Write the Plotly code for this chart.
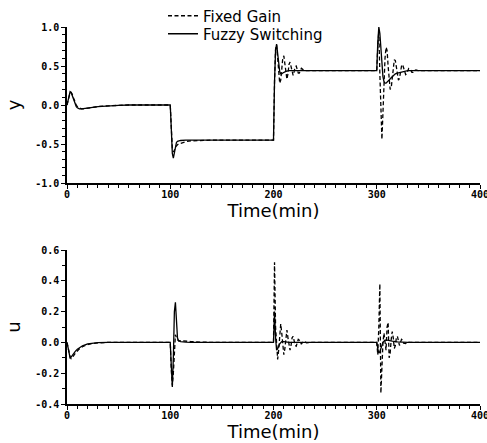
import plotly.graph_objects as go

# ---------------- data ----------------
# Output y, fuzzy switching
T_Y_FUZZY = [0,1,2,3,4,5,6,7,8,9,10,12,14,16,18,20,25,30,40,50,60,80,100,
             101,102,103,104,105,106,107,108,110,115,120,140,160,200,
             201,202,203,204,205,206,207,208,209,210,212,215,220,240,300,
             301,302,303,304,305,306,307,308,309,310,312,314,316,318,320,323,326,330,340,360,400]
Y_FUZZY = [0,0.06,0.14,0.17,0.16,0.12,0.07,0.03,0.0,-0.02,-0.035,-0.05,-0.05,-0.045,-0.04,-0.035,-0.03,-0.02,-0.01,-0.005,0,0,0,
           -0.3,-0.62,-0.68,-0.6,-0.52,-0.48,-0.465,-0.46,-0.455,-0.45,-0.45,-0.45,-0.45,-0.45,
           0.3,0.7,0.78,0.68,0.52,0.43,0.40,0.40,0.41,0.42,0.43,0.44,0.44,0.44,0.44,
           0.8,1.0,0.92,0.7,0.5,0.36,0.3,0.28,0.28,0.29,0.32,0.35,0.38,0.4,0.41,0.42,0.43,0.44,0.44,0.44,0.44]

# Output y, fixed gain
T_Y_FIXED = [0,1,2,3,4,5,6,7,8,9,10,12,14,16,18,20,25,30,40,50,60,80,100,
             101,102,103,104,105,106,107,108,110,112,115,120,130,140,160,200,
             201,202,203,204,205,206,207,208,209,210,211,212,213,214,215,216,217,218,219,220,
             221,222,223,224,225,226,227,228,230,235,240,300,
             301,302,303,304,305,306,307,308,309,310,311,312,313,314,315,316,317,318,319,320,
             321,322,323,324,325,326,327,328,329,330,331,332,333,334,335,336,338,340,345,360,400]
Y_FIXED = [0,0.05,0.12,0.16,0.16,0.14,0.1,0.06,0.03,0.0,-0.02,-0.04,-0.05,-0.05,-0.045,-0.04,-0.03,-0.02,-0.01,-0.005,0,0,0,
           -0.28,-0.55,-0.6,-0.58,-0.54,-0.52,-0.51,-0.5,-0.49,-0.48,-0.47,-0.46,-0.455,-0.45,-0.45,-0.45,
           0.3,0.72,0.77,0.62,0.42,0.28,0.32,0.48,0.6,0.63,0.52,0.38,0.33,0.4,0.52,0.55,0.48,0.4,0.38,0.43,
           0.49,0.5,0.46,0.41,0.41,0.45,0.47,0.46,0.44,0.44,0.44,0.44,
           0.75,0.95,0.4,-0.2,-0.44,-0.1,0.3,0.6,0.74,0.7,0.5,0.3,0.2,0.22,0.35,0.5,0.58,0.57,0.5,0.38,
           0.32,0.34,0.42,0.5,0.52,0.48,0.42,0.39,0.4,0.44,0.47,0.47,0.45,0.42,0.42,0.44,0.45,0.44,0.44,0.44,0.44]

# Control u, fuzzy switching
T_U_FUZZY = [0,1,2,3,4,5,6,8,10,12,15,20,25,30,40,100,
             101,102,103,104,105,106,107,108,110,115,120,200,
             201,202,203,204,205,206,208,210,215,220,300,
             301,302,303,304,305,306,308,310,315,320,330,400]
U_FUZZY = [0,-0.04,-0.08,-0.1,-0.095,-0.085,-0.075,-0.058,-0.045,-0.034,-0.022,-0.01,-0.005,-0.002,0,0,
           -0.15,-0.29,-0.1,0.2,0.26,0.1,0.03,0.01,0.005,0.002,0,0,
           0.2,0.03,-0.05,-0.04,-0.02,-0.01,0.005,0.005,0.0,0,0,
           -0.04,-0.07,-0.06,-0.04,-0.02,0.0,0.015,0.015,0.008,0.003,0,0]

# Control u, fixed gain
T_U_FIXED = [0,1,2,3,4,5,6,8,10,12,15,20,25,30,40,100,
             101,102,103,104,105,106,107,108,110,115,120,130,140,200,
             201,202,203,204,205,206,207,208,209,210,211,212,213,214,215,216,217,218,219,220,
             221,222,223,224,225,226,227,228,230,232,235,300,
             301,302,303,304,305,306,307,308,309,310,311,312,313,314,315,316,317,318,319,320,
             321,322,323,324,325,326,328,330,332,340,400]
U_FIXED = [0,-0.03,-0.07,-0.095,-0.105,-0.1,-0.09,-0.07,-0.055,-0.042,-0.028,-0.014,-0.007,-0.003,0,0,
           -0.18,-0.28,-0.2,-0.05,0.05,0.03,0.015,0.01,0.012,0.008,0.005,0.002,0,0,
           0.52,0.1,-0.06,-0.11,-0.05,0.06,0.12,0.06,-0.03,-0.08,-0.04,0.04,0.08,0.03,-0.03,-0.05,-0.02,0.03,0.04,0.01,
           -0.02,-0.025,0.0,0.02,0.015,-0.005,-0.012,0.0,0.006,-0.003,0,0,
           -0.08,0.1,0.38,-0.33,-0.15,0.0,0.06,0.0,-0.05,0.1,0.13,-0.1,-0.07,0.02,0.07,0.03,-0.04,-0.02,0.03,0.04,
           0.0,-0.02,0.0,0.02,0.015,-0.005,-0.008,0.003,0.0,0,0]

for a, b in [(T_Y_FUZZY, Y_FUZZY), (T_Y_FIXED, Y_FIXED), (T_U_FUZZY, U_FUZZY), (T_U_FIXED, U_FIXED)]:
    assert len(a) == len(b), (len(a), len(b))

SERIES_NAMES = ["Fixed Gain", "Fuzzy Switching"]
X_TICKS = [0, 100, 200, 300, 400]
X_TICK_LABELS = ["0", "100", "200", "300", "400"]
Y_TICKS = [-1.0, -0.5, 0.0, 0.5, 1.0]
Y_TICK_LABELS = ["-1.0", "-0.5", "0.0", "0.5", "1.0"]
U_TICKS = [-0.4, -0.2, 0.0, 0.2, 0.4, 0.6]
U_TICK_LABELS = ["-0.4", "-0.2", "0.0", "0.2", "0.4", "0.6"]

# ---------------- figure ----------------
W, H = 487, 443
ML, MR, MT, MB = 67, 7, 0, 39
PW, PH = W - ML - MR, H - MT - MB

def py(p):  # pixel row -> paper y
    return (H - MB - p) / PH

def px(p):  # pixel column -> paper x
    return (p - ML) / PW

DASH = dict(color="black", width=1.3, dash="4px,2.5px")
SOLID = dict(color="black", width=1.3)

fig = go.Figure()
fig.add_trace(go.Scatter(x=T_Y_FIXED, y=Y_FIXED, mode="lines", line=DASH, name=SERIES_NAMES[0],
                         xaxis="x", yaxis="y", legend="legend"))
fig.add_trace(go.Scatter(x=T_Y_FUZZY, y=Y_FUZZY, mode="lines", line=SOLID, name=SERIES_NAMES[1],
                         xaxis="x", yaxis="y", legend="legend2"))
fig.add_trace(go.Scatter(x=T_U_FIXED, y=U_FIXED, mode="lines", line=DASH, name=SERIES_NAMES[0],
                         xaxis="x2", yaxis="y2", showlegend=False))
fig.add_trace(go.Scatter(x=T_U_FUZZY, y=U_FUZZY, mode="lines", line=SOLID, name=SERIES_NAMES[1],
                         xaxis="x2", yaxis="y2", showlegend=False))

TICKFONT = dict(family="DejaVu Sans Mono", size=10, color="black", weight="bold")
TITLEFONT = dict(family="DejaVu Sans", size=18, color="black")
LEGFONT = dict(family="DejaVu Sans", size=15, color="black")

def xax(anchor):
    return dict(
        anchor=anchor, domain=[0, 1], range=[0, 400], automargin=False,
        showline=True, linecolor="black", linewidth=1.5,
        ticks="outside", ticklen=4, tickwidth=1.3, tickcolor="black",
        tickvals=X_TICKS, ticktext=X_TICK_LABELS, tickfont=TICKFONT,
        ticklabeloverflow="allow", ticklabelstandoff=-3,
        minor=dict(dtick=10, ticks="outside", ticklen=3, tickwidth=1.1, tickcolor="black"),
        showgrid=False, zeroline=False,
        title=dict(text="Time(min)", font=TITLEFONT, standoff=0),
    )

def yax(anchor, rng, vals, labels, dom, title):
    return dict(
        anchor=anchor, domain=dom, range=rng, automargin=False,
        showline=True, linecolor="black", linewidth=1.5,
        ticks="outside", ticklen=4, tickwidth=1.3, tickcolor="black",
        tickvals=vals, ticktext=labels, tickfont=TICKFONT,
        minor=dict(dtick=0.1, ticks="outside", ticklen=3, tickwidth=1.1, tickcolor="black"),
        showgrid=False, zeroline=False,
        title=dict(text=title, font=TITLEFONT, standoff=10),
    )

LEG = dict(xanchor="left", yanchor="middle", bgcolor="rgba(0,0,0,0)", font=LEGFONT,
           borderwidth=0, itemwidth=30)

fig.update_layout(
    width=W, height=H,
    margin=dict(l=ML, r=MR, t=MT, b=MB, autoexpand=False),
    paper_bgcolor="white", plot_bgcolor="white",
    xaxis=xax("y"),
    yaxis=yax("x", [-1, 1], Y_TICKS, Y_TICK_LABELS, [py(183), py(27)], "y"),
    xaxis2=xax("y2"),
    yaxis2=yax("x2", [-0.4, 0.6], U_TICKS, U_TICK_LABELS, [0, py(250)], "u"),
    legend=dict(x=px(163), y=py(16), **LEG),
    legend2=dict(x=px(163), y=py(34), **LEG),
    showlegend=True,
)

fig.write_html("out.html", config={"displayModeBar": False},
               post_script="document.body.style.margin='0px';")
